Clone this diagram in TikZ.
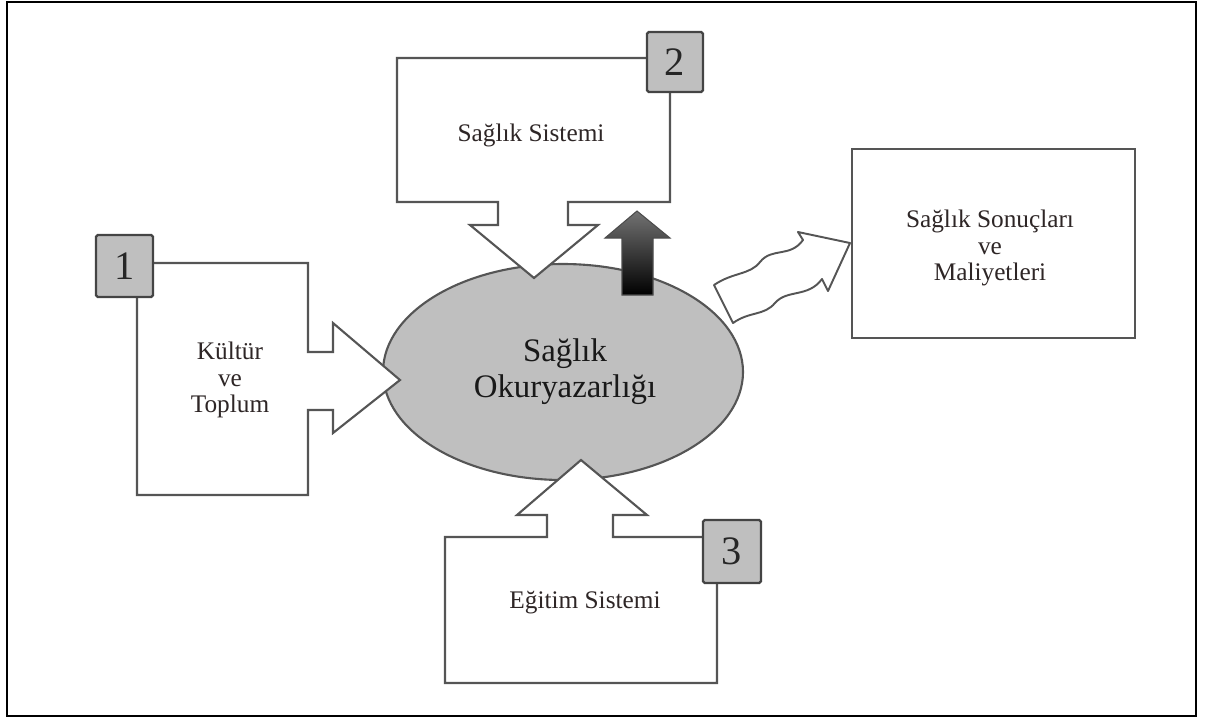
\documentclass[tikz,border=0pt]{standalone}
\usepackage{fontspec}
\setmainfont{Liberation Serif}
\definecolor{linegray}{HTML}{555555}
\definecolor{fillgray}{HTML}{BFBFBF}
\definecolor{txt}{HTML}{2E2626}
\begin{document}
\begin{tikzpicture}[x=0.02cm,y=-0.02cm,
  callout/.style={draw=linegray, line width=1.2pt, fill=white, line join=miter},
  badge/.style={draw=linegray!80!black, line width=1.3pt, fill=fillgray, rounded corners=1pt},
  badgetxt/.style={font=\fontsize{23}{23}\selectfont, text=black!85},
  smalltxt/.style={font=\fontsize{14.4}{15}\selectfont, text=txt, align=center},
  bigtxt/.style={font=\fontsize{18.7}{20.5}\selectfont, text=black!90, align=center}]
\useasboundingbox (0,0) rectangle (1209,718);
\draw[line width=1.3pt, black] (7,2) rectangle (1196,716);

% central ellipse
\draw[linegray, line width=1.2pt, fill=fillgray] (563,372) ellipse [x radius=180, y radius=108];
\node[bigtxt] (ok) at (565,372) {Sağlık\\Okuryazarlığı};

% box 2 : Saglik Sistemi
\draw[callout] (397,58) -- (670,58) -- (670,202) -- (568,202) -- (568,225) -- (598,225)
  -- (534,278) -- (470,225) -- (498,225) -- (498,202) -- (397,202) -- cycle;
\node[smalltxt] (ss) at (531,135) {Sağlık Sistemi};
\draw[badge] (647,32) rectangle (703,92);
\node[badgetxt] (b2) at (675,62) {2};

% dark up arrow
\shade[top color=black!55, bottom color=black, draw=black!70, line width=0.6pt]
  (622,295) -- (622,238) -- (605,238) -- (637,211) -- (670,238) -- (653,238) -- (653,295) -- cycle;

% box 1 : Kultur ve Toplum
\draw[callout] (137,263) -- (308,263) -- (308,352) -- (333,352) -- (333,323) -- (400,380)
  -- (333,433) -- (333,410) -- (308,410) -- (308,495) -- (137,495) -- cycle;
\node[smalltxt] (kt) at (230,380) {Kültür\\ve\\Toplum};
\draw[badge] (96,235) rectangle (153,297);
\node[badgetxt] (b1) at (124.5,266) {1};

% box 3 : Egitim Sistemi
\draw[callout] (445,537) -- (547,537) -- (547,515) -- (517,515) -- (581,460) -- (647,515)
  -- (613,515) -- (613,537) -- (717,537) -- (717,683) -- (445,683) -- cycle;
\node[smalltxt] (es) at (585,603) {Eğitim Sistemi};
\draw[badge] (703,520) rectangle (761,583);
\node[badgetxt] (b3) at (732,551.5) {3};

% wavy arrow
\draw[callout, line width=1.1pt, line join=round]
  (733,323) .. controls (750,311) and (764,316) .. (775,303)
  .. controls (787,289) and (808,298) .. (822,279)
  -- (828,291) -- (850,243) -- (798,232) -- (803,240)
  .. controls (790,258) and (772,247) .. (760,262)
  .. controls (750,275) and (733,272) .. (714,285) -- cycle;

% right box
\draw[callout] (852,149) rectangle (1135,338);
\node[smalltxt] (sm) at (990,248) {Sağlık Sonuçları\\ve\\Maliyetleri};
\end{tikzpicture}
\end{document}
